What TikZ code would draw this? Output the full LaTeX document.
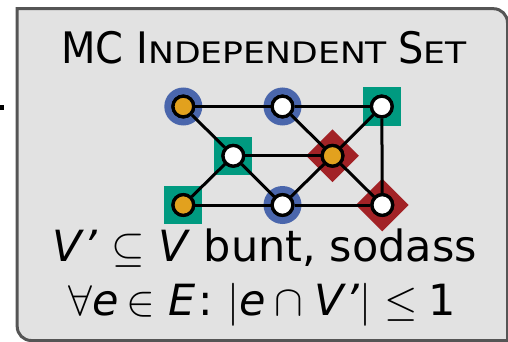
\RequirePackage{fix-cm}
\documentclass[tikz,border=0pt]{standalone}
\usepackage{fontspec}
\setmainfont{DejaVu Sans}
\newfontfamily\titlecapfont[FakeStretch=0.92]{DejaVu Sans}
\newfontfamily\titlescfont[FakeStretch=1.17]{DejaVu Sans}
\definecolor{boxfill}{HTML}{E2E2E2}
\definecolor{boxline}{HTML}{555555}
\definecolor{mblue}{HTML}{4A66AC}
\definecolor{mteal}{HTML}{009A80}
\definecolor{mred}{HTML}{A22226}
\definecolor{morange}{HTML}{E2A11E}
\tikzset{
  vtx/.style={circle, draw=black, line width=3.3pt, minimum size=20.7pt, inner sep=0pt, fill=white},
  vtxo/.style={vtx, fill=morange},
  halo/.style={circle, fill=mblue, minimum size=38pt, inner sep=0pt},
  sq/.style={rectangle, fill=mteal, minimum size=38pt, inner sep=0pt},
  dia/.style={rectangle, fill=mred, minimum size=37.3pt, inner sep=0pt, rotate=45},
  edge/.style={line width=3pt, black},
  boxborder/.style={draw=boxline, fill=boxfill, line width=3pt},
  txt/.style={inner sep=0pt, anchor=base}
}
\newcommand{\bigsz}{\titlecapfont\fontsize{43.4}{48}\selectfont}
\newcommand{\smsz}{\titlescfont\fontsize{29.6}{34}\selectfont}
\newcommand{\primesym}{\textit{\symbol{39}}}
\begin{document}
\begin{tikzpicture}[x=1pt,y=-1pt]
\useasboundingbox (0,0) rectangle (508,342);
% frame
\path[boxborder] (17.2,200) -- (17.2,8.7) -- (493.5,8.7)
  arc[start angle=-90,end angle=0,radius=14] -- (507.5,340.5) -- (31.2,340.5)
  arc[start angle=90,end angle=180,radius=14] -- cycle;
% incoming connector stub
\coordinate (cin) at (-10,107.5);
\coordinate (cend) at (3.6,107.5);
\draw[line width=5pt] (cin) -- (cend);
% title
\node[txt] (title) at (264,63.3) {\bigsz MC I\smsz NDEPENDENT \bigsz S\smsz ET};
% markers
\node[halo] (hTL) at (183.3,106.5) {};
\node[halo] (hTM) at (282.5,106.5) {};
\node[sq]   (sTR) at (381.8,106.5) {};
\node[sq]   (sML) at (233.3,155.8) {};
\node[dia]  (dMR) at (332.5,155.8) {};
\node[sq]   (sBL) at (183.3,205) {};
\node[halo] (hBM) at (282.5,205) {};
\node[dia]  (dBR) at (382.3,205) {};
% vertices
\node[vtxo] (TL) at (183.3,106.5) {};
\node[vtx]  (TM) at (282.5,106.5) {};
\node[vtx]  (TR) at (381.8,106.5) {};
\node[vtx]  (ML) at (233.3,155.8) {};
\node[vtxo] (MR) at (332.5,155.8) {};
\node[vtxo] (BL) at (183.3,205) {};
\node[vtx]  (BM) at (282.5,205) {};
\node[vtx]  (BR) at (382.3,205) {};
% edges
\draw[edge] (TL) -- (TM);
\draw[edge] (TM) -- (TR);
\draw[edge] (TL) -- (ML);
\draw[edge] (TM) -- (MR);
\draw[edge] (TR) -- (MR);
\draw[edge] (TR) -- (BR);
\draw[edge] (ML) -- (MR);
\draw[edge] (ML) -- (BL);
\draw[edge] (ML) -- (BM);
\draw[edge] (MR) -- (BM);
\draw[edge] (MR) -- (BR);
\draw[edge] (BL) -- (BM);
\draw[edge] (BM) -- (BR);
% redraw vertices on top of edges
\node[vtxo] at (TL) {};
\node[vtx]  at (TM) {};
\node[vtx]  at (TR) {};
\node[vtx]  at (ML) {};
\node[vtxo] at (MR) {};
\node[vtxo] at (BL) {};
\node[vtx]  at (BM) {};
\node[vtx]  at (BR) {};
% text
\node[txt] (l1) at (264.9,261) {\fontsize{43}{52}\selectfont\textit{V}\kern-1pt\primesym\ $\subseteq$ \textit{V} bunt, sodass};
\node[txt] (l2) at (262.3,315) {\fontsize{43}{52}\selectfont$\forall$\textit{e}\hspace{8pt}$\in$\hspace{13pt}\textit{E}\hspace{3pt}:\hspace{14pt}$|$\textit{e}\hspace{9pt}$\cap$\hspace{11pt}\textit{V}\kern-1pt\primesym$|$\hspace{13pt}$\leq$\hspace{11pt}1};
\end{tikzpicture}
\end{document}
